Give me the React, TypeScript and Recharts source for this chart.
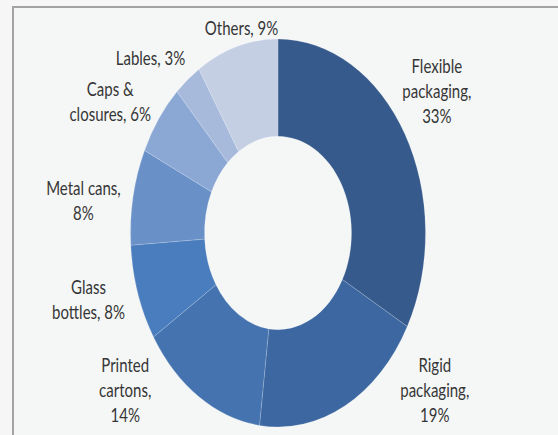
import React from 'react';
import { PieChart, Pie, Cell, Sector } from 'recharts';

const categories = [
  'Flexible packaging',
  'Rigid packaging',
  'Printed cartons',
  'Glass bottles',
  'Metal cans',
  'Caps & closures',
  'Lables',
  'Others',
];
const shares = [33, 19, 14, 8, 8, 6, 3, 9];
const labelLines = [
  ['Flexible', 'packaging,', '33%'],
  ['Rigid', 'packaging,', '19%'],
  ['Printed', 'cartons,', '14%'],
  ['Glass', 'bottles, 8%'],
  ['Metal cans,', '8%'],
  ['Caps &', 'closures, 6%'],
  ['Lables, 3%'],
  ['Others, 9%'],
];
const colors = ['#365a8b', '#3c67a1', '#4473af', '#4a7dbd', '#6a90c8', '#8ba8d5', '#a7badc', '#c4cfe4'];

// manual label nudges (screen px), like hand-placed data labels
const labelNudge: [number, number][] = [
  [-9, -28],
  [16, 0],
  [-12, 0],
  [-4, -4],
  [-3, 9],
  [-10, 1],
  [-8, 3],
  [18, 11],
];

const data = categories.map((name, i) => ({ name, value: shares[i] }));

const W = 558;
const H = 435;
const CX = 278;
const CY = 233;
const R_OUT = 147.5;
const R_IN = 73.5;
const K = 1.315;
const RAD = Math.PI / 180;
const LABEL_RX = 195;
const LABEL_RY = 172;
const LINE_H = 19;

const stretch = (cy: number) => `translate(0 ${cy}) scale(1 ${K}) translate(0 ${-cy})`;

function StretchedSector(props: any) {
  return (
    <g transform={stretch(props.cy)}>
      <Sector {...props} />
    </g>
  );
}

function renderLabel(props: any) {
  const { cx, cy, midAngle, outerRadius, index } = props;
  const lines = labelLines[index];
  const half = (lines.length * LINE_H) / 2;
  const c = Math.cos(-midAngle * RAD);
  const s = Math.sin(-midAngle * RAD);
  let dx = LABEL_RX * c;
  let dy = LABEL_RY * s;
  if (dy + half > outerRadius) {
    dy = outerRadius - half;
    const t = dy / LABEL_RY;
    dx = Math.sign(c) * LABEL_RX * Math.sqrt(Math.max(0, 1 - t * t));
  }
  const [nx, ny] = labelNudge[index];
  const x = cx + dx + nx;
  const y0 = cy + dy + ny / K - ((lines.length - 1) * LINE_H) / 2;
  return (
    <g transform={stretch(cy)} key={`lbl-${index}`}>
      <text
        x={x}
        y={y0}
        textAnchor="middle"
        dominantBaseline="central"
        fontFamily="Lato, 'Open Sans', sans-serif"
        fontSize={15}
        fill="#363636"
      >
        {lines.map((l, i) => (
          <tspan key={i} x={x} y={y0 + i * LINE_H} dominantBaseline="central">
            {l}
          </tspan>
        ))}
      </text>
    </g>
  );
}

export default function App() {
  return (
    <div
      style={{
        position: 'absolute',
        left: 0,
        top: 0,
        width: W,
        height: H,
        background: '#f6f6f6',
        overflow: 'hidden',
      }}
    >
      <div
        style={{
          position: 'absolute',
          left: 12,
          top: 6,
          width: W,
          height: H,
          background: '#f5f7f7',
          borderLeft: '2px solid #a3a3a3',
          borderTop: '2px solid #a3a3a3',
        }}
      />
      <div style={{ position: 'absolute', left: 0, top: 0 }}>
        <PieChart width={W} height={H} margin={{ top: 0, right: 0, bottom: 0, left: 0 }}>
          <Pie
            data={data}
            dataKey="value"
            nameKey="name"
            cx={CX}
            cy={CY}
            innerRadius={R_IN}
            outerRadius={R_OUT}
            startAngle={90}
            endAngle={-270}
            stroke="rgba(255,255,255,0.3)"
            strokeWidth={0.5}
            shape={StretchedSector}
            label={renderLabel}
            labelLine={false}
            isAnimationActive={false}
          >
            {data.map((d, i) => (
              <Cell key={d.name} fill={colors[i]} />
            ))}
          </Pie>
        </PieChart>
      </div>
    </div>
  );
}
